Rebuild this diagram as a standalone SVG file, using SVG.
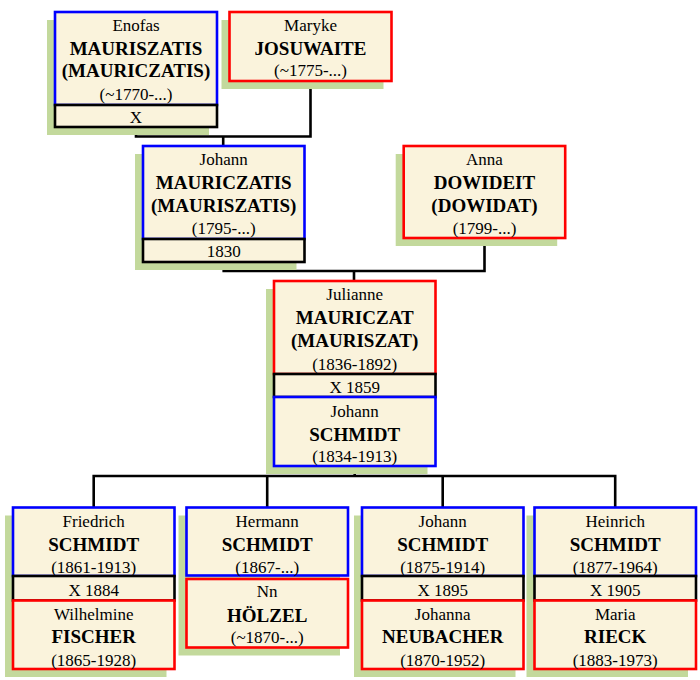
<svg xmlns="http://www.w3.org/2000/svg" width="700" height="680" viewBox="0 0 700 680">
<style>
.sh{fill:#c3d99c}
.bx{fill:#faf3dc;stroke-width:2.6}
.m{stroke:#0000ff}
.f{stroke:#ff0000}
.b{stroke:#000}
text{font-family:"Liberation Serif","Times New Roman",serif;text-anchor:middle;fill:#000}
.n{font-size:17px}
.s{font-size:19px;font-weight:bold}
.c{fill:none;stroke:#000;stroke-width:2.6}
</style>
<rect width="700" height="680" fill="#fff"/>
<g id="connectors">
<path class="c" d="M136 127V136.5H310.5V81M223.2 136.5V146"/>
<path class="c" d="M223.7 262V271H484.5V238M354 271V281"/>
<path class="c" d="M354.7 466V476M93.7 507.5V476H615.2V507.5M267.2 476V507.5M442.7 476V507.5"/>
</g>
<g id="n-enofas">
<rect class="sh" x="47" y="20" width="162" height="115"/>
<rect class="bx m" x="55" y="12" width="162" height="93"/>
<rect class="bx b" x="55" y="105" width="162" height="22"/>
<text class="n" x="136" y="31">Enofas</text>
<text class="s" x="136" y="54.5">MAURISZATIS</text>
<text class="s" x="136" y="76.5">(MAURICZATIS)</text>
<text class="n" x="136" y="99.5">(~1770-...)</text>
<text class="n" x="136" y="123">X</text>
</g>
<g id="n-maryke">
<rect class="sh" x="221.5" y="20" width="162" height="69"/>
<rect class="bx f" x="229.5" y="12" width="162" height="69"/>
<text class="n" x="310.5" y="31">Maryke</text>
<text class="s" x="310.5" y="54.5">JOSUWAITE</text>
<text class="n" x="310.5" y="76">(~1775-...)</text>
</g>
<g id="n-johann-m">
<rect class="sh" x="135" y="154" width="161.5" height="116"/>
<rect class="bx m" x="143" y="146" width="161.5" height="93"/>
<rect class="bx b" x="143" y="239" width="161.5" height="23"/>
<text class="n" x="223.7" y="165">Johann</text>
<text class="s" x="223.7" y="189.3">MAURICZATIS</text>
<text class="s" x="223.7" y="211.7">(MAURISZATIS)</text>
<text class="n" x="223.7" y="234">(1795-...)</text>
<text class="n" x="223.7" y="257.3">1830</text>
</g>
<g id="n-anna">
<rect class="sh" x="395.7" y="154" width="161.5" height="92"/>
<rect class="bx f" x="403.7" y="146" width="161.5" height="92"/>
<text class="n" x="484.5" y="165">Anna</text>
<text class="s" x="484.5" y="189.3">DOWIDEIT</text>
<text class="s" x="484.5" y="211.7">(DOWIDAT)</text>
<text class="n" x="484.5" y="234">(1799-...)</text>
</g>
<g id="n-julianne">
<rect class="sh" x="266" y="289" width="161.5" height="185"/>
<rect class="bx f" x="274" y="281" width="161.5" height="93"/>
<rect class="bx b" x="274" y="374" width="161.5" height="23"/>
<rect class="bx m" x="274" y="397" width="161.5" height="69"/>
<text class="n" x="354.7" y="300">Julianne</text>
<text class="s" x="354.7" y="324.3">MAURICZAT</text>
<text class="s" x="354.7" y="346.7">(MAURISZAT)</text>
<text class="n" x="354.7" y="370">(1836-1892)</text>
<text class="n" x="354.7" y="393.3">X 1859</text>
<text class="n" x="354.7" y="416.7">Johann</text>
<text class="s" x="354.7" y="441">SCHMIDT</text>
<text class="n" x="354.7" y="461.7">(1834-1913)</text>
</g>
<g id="n-friedrich">
<rect class="sh" x="5" y="515.5" width="161.5" height="161.5"/>
<rect class="bx m" x="13" y="507.5" width="161.5" height="68.5"/>
<rect class="bx b" x="13" y="576" width="161.5" height="24.5"/>
<rect class="bx f" x="13" y="600.5" width="161.5" height="68.5"/>
<text class="n" x="93.7" y="527.3">Friedrich</text>
<text class="s" x="93.7" y="551">SCHMIDT</text>
<text class="n" x="93.7" y="573.3">(1861-1913)</text>
<text class="n" x="93.7" y="595.7">X 1884</text>
<text class="n" x="93.7" y="620">Wilhelmine</text>
<text class="s" x="93.7" y="643.3">FISCHER</text>
<text class="n" x="93.7" y="665.7">(1865-1928)</text>
</g>
<g id="n-hermann">
<rect class="sh" x="178.5" y="515.5" width="161.5" height="140"/>
<rect class="bx m" x="186.5" y="507.5" width="161.5" height="68"/>
<rect class="bx f" x="186.5" y="579" width="161.5" height="68.5"/>
<text class="n" x="267.2" y="527.3">Hermann</text>
<text class="s" x="267.2" y="551">SCHMIDT</text>
<text class="n" x="267.2" y="573.3">(1867-...)</text>
<text class="n" x="267.2" y="597.3">Nn</text>
<text class="s" x="267.2" y="621.7">HÖLZEL</text>
<text class="n" x="267.2" y="643.3">(~1870-...)</text>
</g>
<g id="n-johann-s">
<rect class="sh" x="354" y="515.5" width="161.5" height="161.5"/>
<rect class="bx m" x="362" y="507.5" width="161.5" height="68.5"/>
<rect class="bx b" x="362" y="576" width="161.5" height="24.5"/>
<rect class="bx f" x="362" y="600.5" width="161.5" height="68.5"/>
<text class="n" x="442.7" y="527.3">Johann</text>
<text class="s" x="442.7" y="551">SCHMIDT</text>
<text class="n" x="442.7" y="573.3">(1875-1914)</text>
<text class="n" x="442.7" y="595.7">X 1895</text>
<text class="n" x="442.7" y="620">Johanna</text>
<text class="s" x="442.7" y="643.3">NEUBACHER</text>
<text class="n" x="442.7" y="665.7">(1870-1952)</text>
</g>
<g id="n-heinrich">
<rect class="sh" x="526.5" y="515.5" width="161.5" height="161.5"/>
<rect class="bx m" x="534.5" y="507.5" width="161.5" height="68.5"/>
<rect class="bx b" x="534.5" y="576" width="161.5" height="24.5"/>
<rect class="bx f" x="534.5" y="600.5" width="161.5" height="68.5"/>
<text class="n" x="615.2" y="527.3">Heinrich</text>
<text class="s" x="615.2" y="551">SCHMIDT</text>
<text class="n" x="615.2" y="573.3">(1877-1964)</text>
<text class="n" x="615.2" y="595.7">X 1905</text>
<text class="n" x="615.2" y="620">Maria</text>
<text class="s" x="615.2" y="643.3">RIECK</text>
<text class="n" x="615.2" y="665.7">(1883-1973)</text>
</g>
</svg>
